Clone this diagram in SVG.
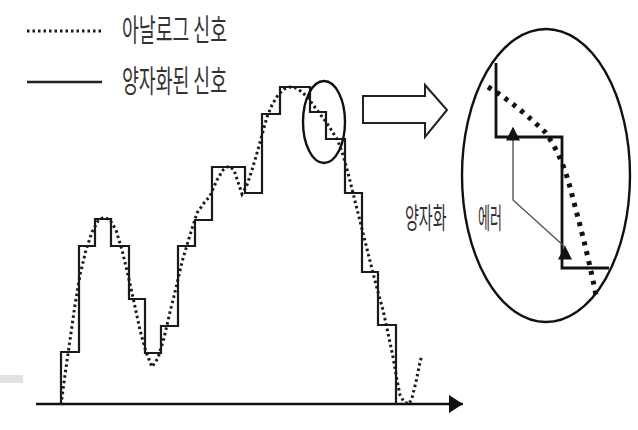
<svg xmlns="http://www.w3.org/2000/svg" width="638" height="430" viewBox="0 0 638 430">
<style>
.txt{font-family:"Noto Sans CJK KR","Noto Sans",sans-serif;fill:#333}
.step{fill:none;stroke:#1a1a1a;stroke-width:2.2;stroke-linejoin:miter}
.dot{fill:none;stroke:#1a1a1a;stroke-width:3;stroke-dasharray:2.5 3}
.bigdot{fill:none;stroke:#111;stroke-width:5;stroke-dasharray:4 6}
.ring{fill:none;stroke:#111;stroke-width:2.4}
</style>
<defs>
<marker id="up" viewBox="0 0 10 10" refX="9" refY="5" markerWidth="14" markerHeight="14" markerUnits="userSpaceOnUse" orient="270">
<path d="M0,0 L10,5 L0,10 Z" fill="#111"/>
</marker>
<marker id="axhead" viewBox="0 0 10 10" refX="10" refY="5" markerWidth="14" markerHeight="18" markerUnits="userSpaceOnUse" orient="auto" preserveAspectRatio="none">
<path d="M0,0 L10,5 L0,10 Z" fill="#111"/>
</marker>
</defs>
<rect width="638" height="430" fill="#fff"/>
<rect x="0" y="375" width="23" height="8" fill="#e2e2e2"/>

<g id="legend">
<line class="dot" x1="27" y1="31" x2="103" y2="31"/>
<text class="txt" transform="translate(122,41) scale(0.59,1)" font-size="31">아날로그 신호</text>
<line x1="27" y1="82" x2="102" y2="82" stroke="#222" stroke-width="2.6"/>
<text class="txt" transform="translate(122,92) scale(0.59,1)" font-size="31">양자화된 신호</text>
</g>

<g id="connectors">
<line id="axis" x1="36" y1="404" x2="463" y2="404" stroke="#111" stroke-width="2.4" marker-end="url(#axhead)"/>
<polygon id="zoom-arrow" points="363,96 425,96 425,85 447,110 425,137 425,123 363,123" fill="#fff" stroke="#222" stroke-width="2"/>
</g>

<g id="quantized-signal">
<path class="step" d="M61,405 V352 H79 V246 H95 V219 H111 V246 H129 V299 H145 V353 H161 V326 H178 V246 H195 V220 H212 V167 H245 V193 H262 V114 H280 V87 H310 V112 H326 V139 H345 V193 H362 V272 H378 V325 H396 V405"/>
</g>

<g id="analog-signal">
<polyline class="dot" points="61,405 65,375 70,340 75,305 80,275 86,250 92,232 98,221 104,217 110,220 116,230 122,250 128,275 134,302 140,330 146,352 152,367 158,358 164,338 170,312 176,288 182,262 190,235 197,213 204,203 210,196 217,180 223,170 229,166 234,170 238,182 242,194 247,185 252,170 257,153 262,135 267,117 272,105 278,95 284,89 290,87 296,88 302,92 308,98 314,106 320,114 326,122 332,131 338,141 343,155 348,173 353,193 358,213 363,233 368,253 373,273 378,292 383,310 388,333 393,357 397,380 400,395 404,402 409,404 412,398 416,382 420,362 422,355"/>
</g>

<g id="small-circle">
<ellipse class="ring" cx="324" cy="122" rx="21" ry="41"/>
</g>

<g id="magnified">
<ellipse class="ring" cx="546" cy="175.5" rx="84" ry="146.5"/>
<path d="M496,63 V137 H562 V268 H609" fill="none" stroke="#111" stroke-width="2.8"/>
<path class="bigdot" d="M488,87 C510,100 530,118 545,132 C558,150 566,170 572,195 C580,225 588,255 596,295"/>
<path d="M513,128 V200 L565,247" fill="none" stroke="#555" stroke-width="1.4" marker-start="url(#up)" marker-end="url(#up)"/>
<text class="txt" transform="translate(405,229) scale(0.52,1)" font-size="29">양자화</text>
<text class="txt" transform="translate(478,229) scale(0.45,1)" font-size="29">에러</text>
</g>
</svg>
